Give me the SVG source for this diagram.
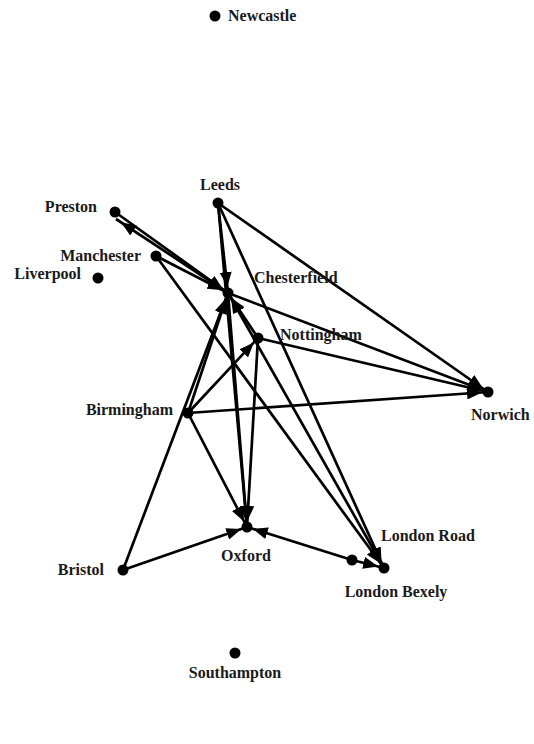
<svg xmlns="http://www.w3.org/2000/svg" width="534" height="744" viewBox="0 0 534 744">
<style>
.e{stroke:#000;stroke-width:2.7;fill:none;marker-end:url(#arr)}
.n{fill:#000}
text{font-family:"Liberation Serif","Times New Roman",serif;font-weight:bold;font-size:16px;fill:#1a1a1a}
</style>
<defs>
<marker id="arr" markerUnits="userSpaceOnUse" markerWidth="21" markerHeight="12" viewBox="0 0 21 12" refX="21" refY="6" orient="auto">
<path d="M0,0 L15,6 L0,12 z" fill="#000"/>
</marker>
</defs>
<rect width="534" height="744" fill="#fff"/>
<g id="edges">
<line class="e" x1="218" y1="203" x2="228" y2="293"/>
<line class="e" x1="218" y1="203" x2="247" y2="527"/>
<line class="e" x1="218" y1="203" x2="488" y2="392"/>
<line class="e" x1="218" y1="203" x2="384" y2="568"/>
<line class="e" x1="156" y1="256" x2="384" y2="568"/>
<line class="e" x1="384" y1="568" x2="228" y2="293"/>
<line class="e" x1="115" y1="212" x2="228" y2="293"/>
<line class="e" x1="228" y1="293" x2="116" y2="219"/>
<line class="e" x1="156" y1="256" x2="228" y2="293"/>
<line class="e" x1="228" y1="293" x2="488" y2="392"/>
<line class="e" x1="228" y1="293" x2="247" y2="527"/>
<line class="e" x1="258" y1="338" x2="228" y2="293"/>
<line class="e" x1="258" y1="338" x2="488" y2="392"/>
<line class="e" x1="258" y1="338" x2="247" y2="527"/>
<line class="e" x1="188" y1="413" x2="228" y2="293"/>
<line class="e" x1="188" y1="413" x2="258" y2="338"/>
<line class="e" x1="188" y1="413" x2="488" y2="392"/>
<line class="e" x1="188" y1="413" x2="247" y2="527"/>
<line class="e" x1="123" y1="570" x2="228" y2="293"/>
<line class="e" x1="123" y1="570" x2="247" y2="527"/>
<line class="e" x1="352" y1="560" x2="247" y2="527"/>
<line class="e" x1="352" y1="560" x2="384" y2="568"/>
</g>
<g id="newcastle"><circle class="n" cx="215" cy="16" r="5.5"/><text x="228" y="21">Newcastle</text></g>
<g id="leeds"><circle class="n" cx="218" cy="203" r="5.5"/><text x="220" y="190" text-anchor="middle">Leeds</text></g>
<g id="preston"><circle class="n" cx="115" cy="212" r="5.5"/><text x="97" y="212" text-anchor="end">Preston</text></g>
<g id="manchester"><circle class="n" cx="156" cy="256" r="5.5"/><text x="141" y="261" text-anchor="end">Manchester</text></g>
<g id="liverpool"><circle class="n" cx="98" cy="278" r="5.5"/><text x="81" y="279" text-anchor="end">Liverpool</text></g>
<g id="chesterfield"><circle class="n" cx="228" cy="293" r="5.5"/><text x="254" y="283">Chesterfield</text></g>
<g id="nottingham"><circle class="n" cx="258" cy="338" r="5.5"/><text x="280" y="340">Nottingham</text></g>
<g id="norwich"><circle class="n" cx="488" cy="392" r="5.5"/><text x="471" y="420">Norwich</text></g>
<g id="birmingham"><circle class="n" cx="188" cy="413" r="5.5"/><text x="173" y="415" text-anchor="end">Birmingham</text></g>
<g id="oxford"><circle class="n" cx="247" cy="527" r="5.5"/><text x="246" y="561" text-anchor="middle">Oxford</text></g>
<g id="bristol"><circle class="n" cx="123" cy="570" r="5.5"/><text x="104" y="575" text-anchor="end">Bristol</text></g>
<g id="london-road"><circle class="n" cx="352" cy="560" r="5.5"/><text x="381" y="541">London Road</text></g>
<g id="london-bexely"><circle class="n" cx="384" cy="568" r="5.5"/><text x="396" y="597" text-anchor="middle">London Bexely</text></g>
<g id="southampton"><circle class="n" cx="235" cy="653" r="5.5"/><text x="235" y="678" text-anchor="middle">Southampton</text></g>
</svg>
